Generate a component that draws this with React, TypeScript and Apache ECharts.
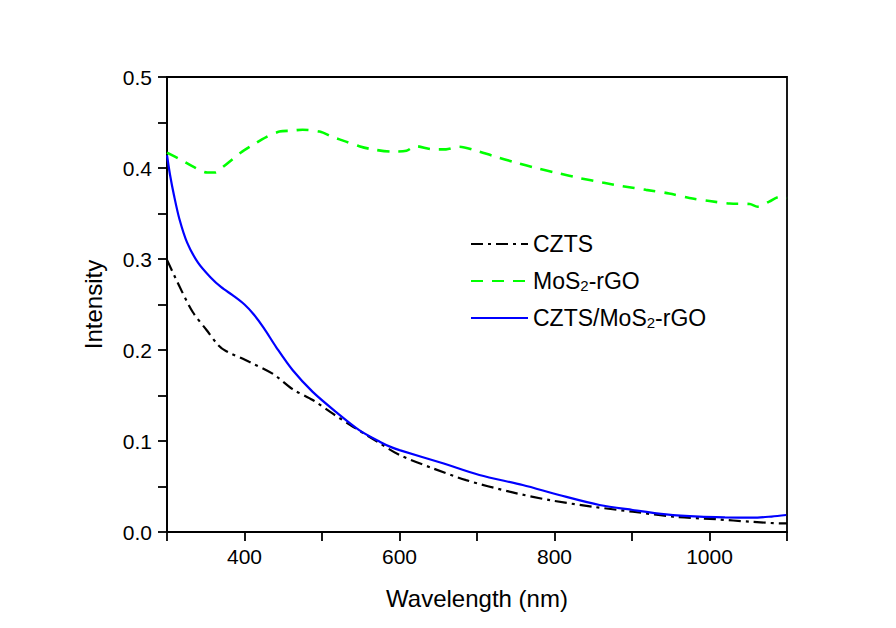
import React, { useEffect, useRef } from "react";
import * as echarts from "echarts";

const cztsWl = [300, 316, 333, 351, 366, 376, 406, 437, 462, 488, 514, 540, 570, 600, 643, 686, 742, 794, 849, 901, 953, 1009, 1052, 1095, 1100];
const cztsVal = [0.299, 0.27, 0.242, 0.222, 0.2055, 0.199, 0.187, 0.1736, 0.157, 0.145, 0.13, 0.1157, 0.1, 0.0846, 0.07, 0.057, 0.0443, 0.035, 0.0278, 0.0223, 0.0168, 0.014, 0.0113, 0.0095, 0.0095];

const mosWl = [300, 318, 335, 352, 362, 372, 385, 397, 412, 428, 445, 460, 475, 497, 514, 531, 548, 565, 591, 609, 621, 643, 660, 677, 699, 722, 750, 776, 806, 832, 862, 888, 918, 948, 974, 1000, 1026, 1052, 1062, 1077, 1090, 1100];
const mosVal = [0.417, 0.409, 0.401, 0.395, 0.395, 0.401, 0.41, 0.418, 0.426, 0.434, 0.44, 0.441, 0.442, 0.44, 0.434, 0.429, 0.424, 0.4205, 0.418, 0.419, 0.424, 0.4205, 0.4205, 0.4234, 0.419, 0.413, 0.406, 0.4, 0.394, 0.389, 0.384, 0.38, 0.376, 0.372, 0.367, 0.3637, 0.361, 0.3604, 0.3575, 0.363, 0.368, 0.367];

const compWl = [300, 304, 309, 316, 326, 340, 356, 370, 385, 400, 412, 425, 441, 462, 488, 518, 548, 575, 590, 600, 656, 703, 759, 806, 858, 901, 944, 987, 1020, 1056, 1080, 1099];
const compVal = [0.414, 0.392, 0.37, 0.344, 0.318, 0.296, 0.28, 0.269, 0.26, 0.25, 0.239, 0.224, 0.203, 0.178, 0.154, 0.132, 0.112, 0.099, 0.093, 0.09, 0.0755, 0.0626, 0.0516, 0.0407, 0.0297, 0.0242, 0.0194, 0.0168, 0.016, 0.0157, 0.017, 0.0187];

const seriesNames = ["CZTS", "MoS2-rGO", "CZTS/MoS2-rGO"];

const pair = (xs: number[], ys: number[]) => xs.map((x, i) => [x, ys[i]]);

const FONT = "'Liberation Sans', Arial, sans-serif";

export default function App() {
  const ref = useRef<HTMLDivElement>(null);
  useEffect(() => {
    if (!ref.current) return;
    const chart = echarts.init(ref.current, undefined, { renderer: "svg" });
    chart.setOption({
      animation: false,
      backgroundColor: "#ffffff",
      textStyle: { fontFamily: FONT, color: "#000" },
      grid: {
        left: 167,
        right: 109,
        top: 77,
        bottom: 96,
        show: true,
        borderColor: "#000",
        borderWidth: 1.8,
        backgroundColor: "transparent",
      },
      legend: {
        orient: "vertical",
        left: 465,
        top: 227,
        itemWidth: 57,
        itemHeight: 14,
        itemGap: 13,
        data: seriesNames,
        itemStyle: { opacity: 0 },
        formatter: (name: string) => name.replace("MoS2", "MoS{sub|2}"),
        textStyle: {
          fontFamily: FONT,
          fontSize: 23,
          color: "#000",
          lineHeight: 24,
          rich: {
            sub: { fontFamily: FONT, fontSize: 15, color: "#000", verticalAlign: "bottom", lineHeight: 24 },
          },
        },
      },
      xAxis: {
        type: "value",
        min: 300,
        max: 1100,
        interval: 100,
        name: "Wavelength (nm)",
        nameLocation: "middle",
        nameGap: 54,
        nameTextStyle: { fontFamily: FONT, fontSize: 24, color: "#000" },
        axisLine: { show: true, lineStyle: { color: "#000", width: 1.8 } },
        axisTick: { show: true, inside: false, length: 9, lineStyle: { color: "#000", width: 1.8 } },
        axisLabel: {
          fontFamily: FONT,
          fontSize: 21,
          color: "#000",
          margin: 14,
          showMinLabel: true,
          showMaxLabel: true,
          formatter: (v: number) => (Math.round(v) % 200 === 0 ? String(Math.round(v)) : ""),
        },
        splitLine: { show: false },
      },
      yAxis: {
        type: "value",
        min: 0,
        max: 0.5,
        interval: 0.05,
        name: "Intensity",
        nameLocation: "middle",
        nameGap: 62,
        nameTextStyle: { fontFamily: FONT, fontSize: 24, color: "#000" },
        axisLine: { show: true, lineStyle: { color: "#000", width: 1.8 } },
        axisTick: { show: true, inside: false, length: 9, lineStyle: { color: "#000", width: 1.8 } },
        axisLabel: {
          fontFamily: FONT,
          fontSize: 21,
          color: "#000",
          margin: 15,
          formatter: (v: number) => {
            const t = v * 10;
            return Math.abs(t - Math.round(t)) < 1e-6 ? v.toFixed(1) : "";
          },
        },
        splitLine: { show: false },
      },
      series: [
        {
          name: seriesNames[0],
          type: "line",
          data: pair(cztsWl, cztsVal),
          symbol: "none",
          smooth: 0.3,
          lineStyle: { color: "#000000", width: 2.2, type: [12, 5, 3, 5] },
          itemStyle: { color: "#000000" },
        },
        {
          name: seriesNames[1],
          type: "line",
          data: pair(mosWl, mosVal),
          symbol: "none",
          smooth: 0.3,
          lineStyle: { color: "#00ff00", width: 2.6, type: [12, 9] },
          itemStyle: { color: "#00ff00" },
        },
        {
          name: seriesNames[2],
          type: "line",
          data: pair(compWl, compVal),
          symbol: "none",
          smooth: 0.3,
          lineStyle: { color: "#0000ff", width: 2.2, type: "solid" },
          itemStyle: { color: "#0000ff" },
        },
      ],
    });
    return () => chart.dispose();
  }, []);
  return (
    <div
      ref={ref}
      style={{ position: "fixed", left: 0, top: 0, width: 896, height: 628, background: "#fff" }}
    />
  );
}
